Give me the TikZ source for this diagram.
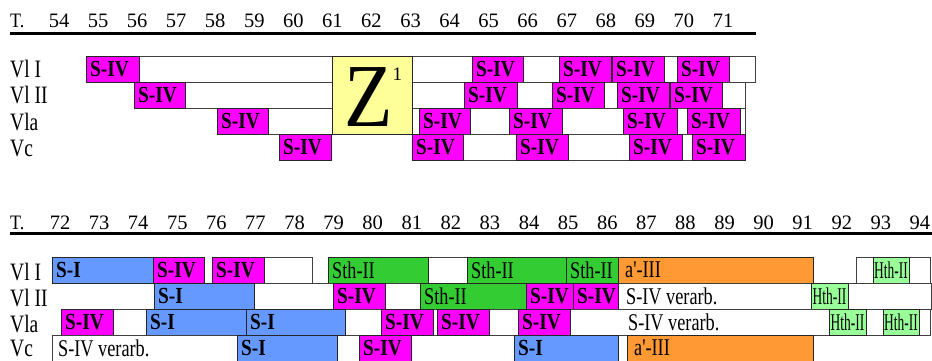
\documentclass[tikz,border=0pt]{standalone}
\usepackage{fontspec}
\usepackage{graphicx}
\setmainfont{Liberation Serif}
\definecolor{mag}{HTML}{FF00FF}
\definecolor{sblue}{HTML}{6699FF}
\definecolor{sgreen}{HTML}{33CC33}
\definecolor{sorange}{HTML}{FF9933}
\definecolor{lgreen}{HTML}{99FF99}
\definecolor{zyellow}{HTML}{FFFF99}
\newcommand\txtb[1]{\scalebox{0.84}[1]{\fontsize{23}{23}\selectfont\bfseries #1}}
\newcommand\txtr[1]{\scalebox{0.76}[1]{\fontsize{24}{24}\selectfont #1}}
\newcommand\txth[1]{\scalebox{0.56}[1]{\fontsize{24}{24}\selectfont #1}}
\newcommand\txtl[1]{\scalebox{0.78}[1]{\fontsize{25}{25}\selectfont #1}}
\tikzset{
  seg/.style={draw=black!85,line width=0.8pt,minimum height=26pt,inner sep=0pt,outer sep=0pt},
  wbox/.style={seg,fill=white,draw=black!75},
  inlbl/.style={inner sep=0pt,anchor=west},
  num/.style={inner sep=0pt,anchor=base,font=\fontsize{20.5}{20.5}\selectfont},
  rowlbl/.style={inner sep=0pt,anchor=base west},
  rule/.style={line width=3pt,black}
}
% name, x1, x2, ytop, fill, text
\newcommand\bx[6]{%
  \node[seg,fill=#5,minimum width={(#3-#2)*1pt},anchor=north west] (#1) at (#2,#4) {};
  \node[inlbl] (#1t) at ([xshift=4pt]#1.west) {#6};}
\newcommand\bxi[6]{%
  \node[seg,fill=#5,minimum width={(#3-#2)*1pt},anchor=north west] (#1) at (#2,#4) {};
  \node[inlbl] (#1t) at ([xshift=7pt]#1.west) {#6};}
\newcommand\bxc[6]{%
  \node[seg,fill=#5,minimum width={(#3-#2)*1pt},anchor=north west] (#1) at (#2,#4) {};
  \node[inner sep=0pt] (#1t) at (#1.center) {#6};}
\newcommand\wb[4]{%
  \node[wbox,minimum width={(#3-#2)*1pt},anchor=north west] (#1) at (#2,#4) {};}
\begin{document}
\begin{tikzpicture}[x=1pt,y=-1pt]
\useasboundingbox (0,0) rectangle (932,360);
% ---------- upper block ----------
\node[rowlbl,font=\fontsize{20.5}{20.5}\selectfont] (T1) at (10,27) {\scalebox{0.88}[1]{T.}};
\foreach \n [evaluate=\n as \xx using {59+(\n-54)*39.06}] in {54,...,71}
  \node[num] (u\n) at (\xx,27) {\n};
\coordinate (r1a) at (10,33.5);
\coordinate (r1b) at (756,33.5);
\draw[rule] (r1a) -- (r1b);
\node[rowlbl] (l1) at (10,77.5) {\txtl{Vl I}};
\node[rowlbl] (l2) at (10,103.5) {\txtl{Vl II}};
\node[rowlbl] (l3) at (10,130) {\txtl{Vla}};
\node[rowlbl] (l4) at (10,156) {\txtl{Vc}};
% Vl I
\wb{a0}{86}{755}{56}
\bx{a1}{86}{139}{56}{mag}{\txtb{S-IV}}
\bx{a2}{472}{523}{56}{mag}{\txtb{S-IV}}
\bx{a3}{559}{611}{56}{mag}{\txtb{S-IV}}
\bx{a4}{612}{664}{56}{mag}{\txtb{S-IV}}
\bx{a5}{677}{729}{56}{mag}{\txtb{S-IV}}
% Vl II
\wb{b0}{134}{745}{82}
\bx{b1}{134}{185}{82}{mag}{\txtb{S-IV}}
\bx{b2}{464}{517}{82}{mag}{\txtb{S-IV}}
\bx{b3}{552}{604}{82}{mag}{\txtb{S-IV}}
\bx{b4}{617}{669}{82}{mag}{\txtb{S-IV}}
\bx{b5}{670}{722}{82}{mag}{\txtb{S-IV}}
% Vla
\wb{c0}{217}{745}{108}
\bx{c1}{217}{268}{108}{mag}{\txtb{S-IV}}
\bx{c2}{419}{470}{108}{mag}{\txtb{S-IV}}
\bx{c3}{509}{562}{108}{mag}{\txtb{S-IV}}
\bx{c4}{623}{677}{108}{mag}{\txtb{S-IV}}
\bx{c5}{687}{740}{108}{mag}{\txtb{S-IV}}
% Vc
\bx{d1}{279}{331}{134}{mag}{\txtb{S-IV}}
\wb{d0}{412}{745}{134}
\bx{d2}{412}{463}{134}{mag}{\txtb{S-IV}}
\bx{d3}{516}{568}{134}{mag}{\txtb{S-IV}}
\bx{d4}{629}{682}{134}{mag}{\txtb{S-IV}}
\bx{d5}{692}{745}{134}{mag}{\txtb{S-IV}}
% Z
\node[seg,fill=zyellow,minimum width=80pt,minimum height=78pt,anchor=north west] (z) at (332,56) {};
\node[inner sep=0pt,anchor=base west] (zt) at (344,126)
  {\scalebox{0.88}[1]{\fontsize{90}{90}\selectfont Z}\raisebox{46pt}{\fontsize{19}{19}\selectfont 1}};
% ---------- lower block ----------
\node[rowlbl,font=\fontsize{20.5}{20.5}\selectfont] (T2) at (10,229) {\scalebox{0.88}[1]{T.}};
\foreach \n [evaluate=\n as \xx using {60+(\n-72)*39.09}] in {72,...,94}
  \node[num] (m\n) at (\xx,229) {\n};
\coordinate (r2a) at (10,233.5);
\coordinate (r2b) at (932,233.5);
\draw[rule] (r2a) -- (r2b);
\node[rowlbl] (k1) at (10,280) {\txtl{Vl I}};
\node[rowlbl] (k2) at (10,306) {\txtl{Vl II}};
\node[rowlbl] (k3) at (10,332) {\txtl{Vla}};
\node[rowlbl] (k4) at (10,356.5) {\txtl{Vc}};
% Vl I
\bx{e1}{52}{153}{257}{sblue}{\txtb{S-I}}
\bx{e2}{153}{204}{257}{mag}{\txtb{S-IV}}
\wb{e0}{212}{312}{257}
\bx{e3}{212}{264}{257}{mag}{\txtb{S-IV}}
\wb{e4}{328}{618}{257}
\bx{e5}{328}{428}{257}{sgreen}{\txtr{Sth-II}}
\bx{e6}{467}{566}{257}{sgreen}{\txtr{Sth-II}}
\bx{e7}{566}{618}{257}{sgreen}{\txtr{Sth-II}}
\bxi{e8}{618}{813}{257}{sorange}{\txtr{a\textquotesingle-III}}
\wb{e9}{856}{930}{257}
\bxc{e10}{873}{909}{257}{lgreen}{\txth{Hth-II}}
% Vl II
\wb{f0}{154}{931}{283}
\bx{f1}{154}{254}{283}{sblue}{\txtb{S-I}}
\bx{f2}{333}{385}{283}{mag}{\txtb{S-IV}}
\bx{f3}{420}{526}{283}{sgreen}{\txtr{Sth-II}}
\bx{f4}{526}{573}{283}{mag}{\txtb{S-IV}}
\bx{f5}{573}{618}{283}{mag}{\txtb{S-IV}}
\node[inlbl] (f0t) at (626,296) {\txtr{S-IV verarb.}};
\bxc{f6}{811}{848}{283}{lgreen}{\txth{Hth-II}}
% Vla
\wb{g0}{61}{930}{309}
\bx{g1}{61}{113}{309}{mag}{\txtb{S-IV}}
\bx{g2}{146}{246}{309}{sblue}{\txtb{S-I}}
\bx{g3}{246}{345}{309}{sblue}{\txtb{S-I}}
\bx{g4}{381}{433}{309}{mag}{\txtb{S-IV}}
\bx{g5}{437}{489}{309}{mag}{\txtb{S-IV}}
\bx{g6}{518}{570}{309}{mag}{\txtb{S-IV}}
\node[inlbl] (g0t) at (628,322) {\txtr{S-IV verarb.}};
\bxc{g7}{829}{866}{309}{lgreen}{\txth{Hth-II}}
\bxc{g8}{883}{919}{309}{lgreen}{\txth{Hth-II}}
% Vc
\wb{h0}{52}{237}{335}
\node[inlbl] (h0t) at ([xshift=6pt]h0.west) {\txtr{S-IV verarb.}};
\bx{h1}{237}{337}{335}{sblue}{\txtb{S-I}}
\bx{h2}{359}{411}{335}{mag}{\txtb{S-IV}}
\bx{h3}{514}{618}{335}{sblue}{\txtb{S-I}}
\bxi{h4}{627}{813}{335}{sorange}{\txtr{a\textquotesingle-III}}
\end{tikzpicture}
\end{document}
